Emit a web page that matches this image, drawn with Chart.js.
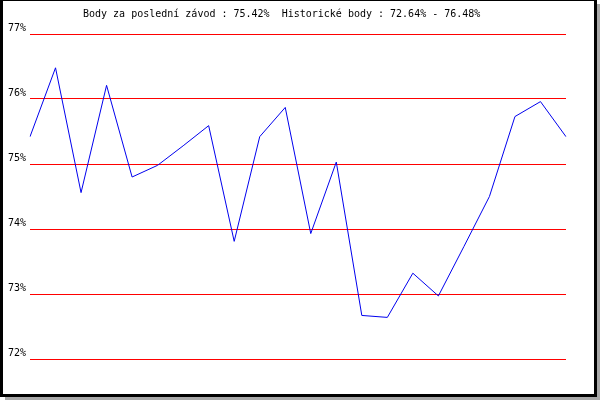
<!DOCTYPE html>
<html>
<head>
<meta charset="utf-8">
<script src="https://cdn.jsdelivr.net/npm/chart.js@4"></script>
<style>html,body{margin:0;padding:0;background:#fff;}canvas{display:block;}</style>
</head>
<body>
<canvas id="c" width="600" height="400"></canvas>
<script>
const titleText = "Body za poslední závod : 75.42%  Historické body : 72.64% - 76.48%";
const categories = ["1","2","3","4","5","6","7","8","9","10","11","12","13","14","15","16","17","18","19","20","21","22"];
const scores = [75.42, 76.48, 74.56, 76.21, 74.80, 74.98, 75.28, 75.59, 73.81, 75.42, 75.87, 73.93, 75.03, 72.67, 72.64, 73.32, 72.97, 73.73, 74.50, 75.73, 75.96, 75.42];
const yMin = 72, yMax = 77, yStep = 1;

const framePlugin = {
  id: 'frame',
  beforeDraw(chart) {
    const ctx = chart.ctx;
    ctx.save();
    ctx.fillStyle = '#ffffff';
    ctx.fillRect(0, 0, 600, 400);
    ctx.restore();
  },
  afterDraw(chart) {
    const ctx = chart.ctx;
    ctx.save();
    ctx.fillStyle = '#a8a8a8';
    ctx.fillRect(597, 4, 3, 396);
    ctx.fillRect(5, 397, 595, 3);
    ctx.fillStyle = '#000000';
    ctx.fillRect(0, 0, 3, 397);
    ctx.fillRect(594, 0, 3, 397);
    ctx.fillRect(0, 394, 597, 3);
    ctx.fillRect(0, 0, 597, 1);
    ctx.font = '10px "DejaVu Sans Mono"';
    ctx.fillStyle = '#000000';
    ctx.textAlign = 'left';
    ctx.textBaseline = 'alphabetic';
    ctx.fillText(titleText, 83, 17);
    ctx.restore();
  }
};

new Chart(document.getElementById('c'), {
  type: 'line',
  data: {
    labels: categories,
    datasets: [{
      data: scores,
      borderColor: '#0000ee',
      borderWidth: 1,
      pointRadius: 0,
      tension: 0,
      fill: false
    }]
  },
  options: {
    responsive: false,
    animation: false,
    devicePixelRatio: 1,
    layout: { padding: { left: 0, right: 34, top: 34, bottom: 41 } },
    plugins: { legend: { display: false }, tooltip: { enabled: false }, title: { display: false } },
    scales: {
      x: {
        type: 'category',
        offset: false,
        display: false,
        grid: { display: false }
      },
      y: {
        min: yMin, max: yMax,
        afterFit(scale) { scale.width = 30; },
        border: { display: false },
        grid: { color: '#ff0000', lineWidth: 1, drawTicks: false },
        ticks: {
          stepSize: yStep,
          padding: 4,
          labelOffset: -6,
          color: '#000000',
          font: { family: 'DejaVu Sans Mono', size: 10 },
          callback: v => v + '%'
        }
      }
    }
  },
  plugins: [framePlugin]
});
</script>
</body>
</html>
